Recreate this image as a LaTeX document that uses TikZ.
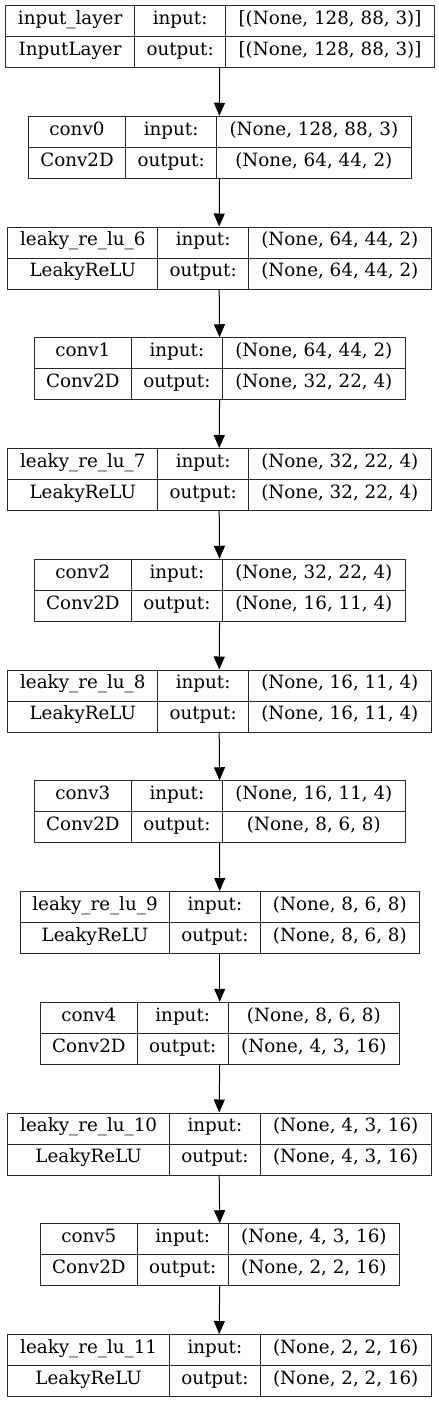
\documentclass[tikz,border=0pt]{standalone}
\usepackage{fontspec}
\setmainfont{DejaVu Serif}
\usepackage{tikz}
\usetikzlibrary{arrows.meta, positioning}
\definecolor{boxline}{RGB}{40,40,40}
\tikzset{
  cell/.style={rectangle, draw=boxline, line width=1pt, anchor=north west,
    minimum height=31pt, inner sep=0pt, text height=0.85em, text depth=0.18em,
    font=\fontsize{18.3}{20}\selectfont},
  layerbox/.style={rectangle, anchor=north west, minimum height=62pt, inner sep=0pt},
  arrow/.style={-{Triangle[length=13pt,width=11pt]}, line width=1pt, color=black}
}

\begin{document}
\begin{tikzpicture}[x=1pt, y=-1pt]
  \useasboundingbox (0,0) rectangle (439,1401);
  % layer boxes: left edge / two column splits / right edge / texts
  \foreach \lft/\ca/\cb/\rgt/\lname/\ltype/\ishape/\oshape [count=\i] in {
    5/134.3/225/434/input\_layer/InputLayer/{[(None, 128, 88, 3)]}/{[(None, 128, 88, 3)]},
    27.7/125.3/216/410.7/conv0/Conv2D/{(None, 128, 88, 3)}/{(None, 64, 44, 2)},
    7.3/157.3/248/430.7/leaky\_re\_lu\_6/LeakyReLU/{(None, 64, 44, 2)}/{(None, 64, 44, 2)},
    33.7/131/221.7/405/conv1/Conv2D/{(None, 64, 44, 2)}/{(None, 32, 22, 4)},
    7.3/157.3/248/430.7/leaky\_re\_lu\_7/LeakyReLU/{(None, 32, 22, 4)}/{(None, 32, 22, 4)},
    33.7/131/221.7/405/conv2/Conv2D/{(None, 32, 22, 4)}/{(None, 16, 11, 4)},
    7.3/157.3/248/430.7/leaky\_re\_lu\_8/LeakyReLU/{(None, 16, 11, 4)}/{(None, 16, 11, 4)},
    33.7/131/221.7/405/conv3/Conv2D/{(None, 16, 11, 4)}/{(None, 8, 6, 8)},
    20/169/259.7/419/leaky\_re\_lu\_9/LeakyReLU/{(None, 8, 6, 8)}/{(None, 8, 6, 8)},
    40/136.7/227.7/399/conv4/Conv2D/{(None, 8, 6, 8)}/{(None, 4, 3, 16)},
    7.3/169/259.7/430.7/leaky\_re\_lu\_10/LeakyReLU/{(None, 4, 3, 16)}/{(None, 4, 3, 16)},
    40/136.7/227.7/399/conv5/Conv2D/{(None, 4, 3, 16)}/{(None, 2, 2, 16)},
    7.3/169/259.7/430.7/leaky\_re\_lu\_11/LeakyReLU/{(None, 2, 2, 16)}/{(None, 2, 2, 16)}
  }{
    \pgfmathsetmacro{\tp}{5+110.75*(\i-1)}
    \node[layerbox, minimum width={\rgt-\lft}] (L\i) at (\lft,\tp) {};
    \node[cell, minimum width={\ca-\lft}] (L\i-name) at (\lft,\tp) {\lname};
    \node[cell, minimum width={\cb-\ca}] (L\i-in) at (\ca,\tp) {input:};
    \node[cell, minimum width={\rgt-\cb}] (L\i-ishape) at (\cb,\tp) {\ishape};
    \node[cell, minimum width={\ca-\lft}] (L\i-type) at (\lft,\tp+31) {\ltype};
    \node[cell, minimum width={\cb-\ca}] (L\i-out) at (\ca,\tp+31) {output:};
    \node[cell, minimum width={\rgt-\cb}] (L\i-oshape) at (\cb,\tp+31) {\oshape};
  }
  % arrows
  \foreach \i [evaluate=\i as \j using int(\i+1)] in {1,...,12}
    \draw[arrow] (L\i.south) -- (L\j.north);
\end{tikzpicture}
\end{document}
